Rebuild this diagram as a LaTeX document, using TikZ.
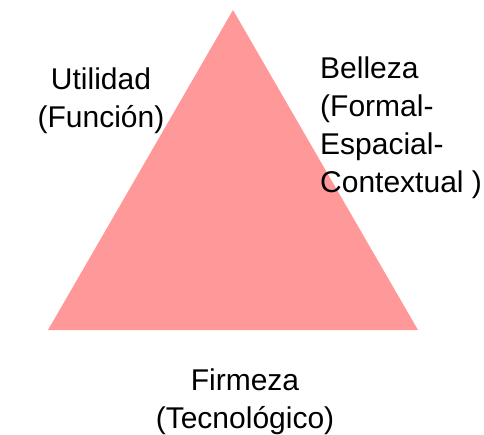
\documentclass[tikz,border=0pt]{standalone}
\usepackage{fontspec}
\setmainfont{Liberation Sans}
\definecolor{tripink}{RGB}{255,153,153}
\begin{document}
\begin{tikzpicture}[x=1pt,y=-1pt,
  lbl/.style={inner sep=0pt, font={\fontsize{30}{38}\selectfont}, text=black}]
\useasboundingbox (0,0) rectangle (484,435);
\fill[tripink] (233,10) coordinate (apex) -- (418,330) coordinate (br) -- (48,330) coordinate (bl) -- cycle;
\node[lbl, align=center, anchor=north] (util) at (101,68) {Utilidad\\(Función)};
\node[lbl, align=left, anchor=north west] (bell) at (320,57) {Belleza\\(Formal-\\Espacial-\\Contextual )};
\node[lbl, align=center, anchor=north] (firm) at (245,369) {Firmeza\\(Tecnológico)};
\end{tikzpicture}
\end{document}
